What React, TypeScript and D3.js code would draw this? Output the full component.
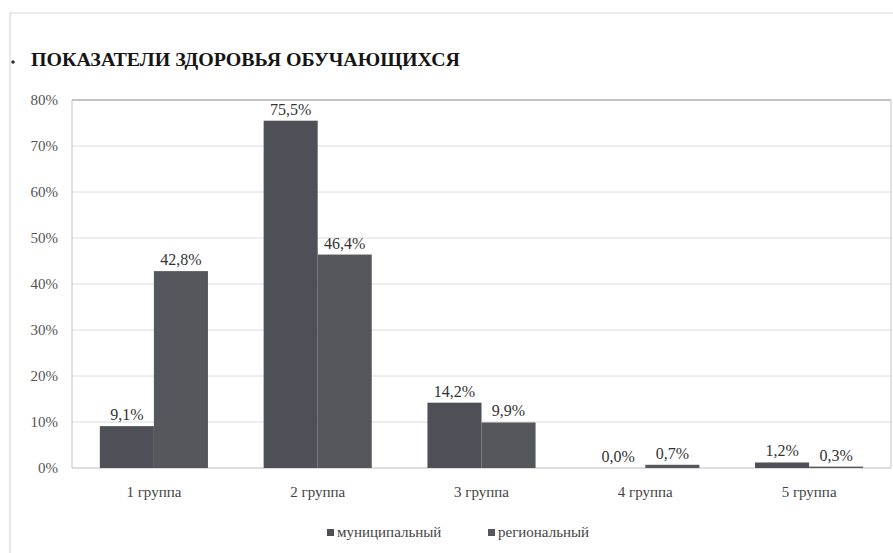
import React from "react";
import * as d3 from "d3";

const categories = ["1 группа", "2 группа", "3 группа", "4 группа", "5 группа"];
const seriesNames = ["муниципальный", "региональный"];
const municipal = [9.1, 75.5, 14.2, 0.0, 1.2];
const regional = [42.8, 46.4, 9.9, 0.7, 0.3];
const yTicks = [0, 10, 20, 30, 40, 50, 60, 70, 80];
const title = "ПОКАЗАТЕЛИ ЗДОРОВЬЯ ОБУЧАЮЩИХСЯ";

const W = 893;
const H = 553;
const plot = { left: 72, right: 891, top: 100, bottom: 468 };
const colors = ["#4f4f57", "#56565d"];
const ts = { fontFamily: "'Times New Roman', 'Liberation Serif', 'DejaVu Serif', serif", fontWeight: 400 as const };

export default function App() {
  const x0 = d3
    .scaleBand<string>()
    .domain(categories)
    .range([plot.left, plot.right])
    .paddingInner(0.34)
    .paddingOuter(0.17);
  const x1 = d3.scaleBand<string>().domain(seriesNames).range([0, x0.bandwidth()]);
  const y = d3.scaleLinear().domain([0, 80]).range([plot.bottom, plot.top]);
  const series = [municipal, regional];
  const fmt = (v: number) => d3.format(".1f")(v).replace(".", ",") + "%";

  return (
    <svg
      width={W}
      height={H}
      style={{ position: "absolute", left: 0, top: 0, background: "#fff" }}
    >
      <rect x={0} y={0} width={W} height={H} fill="#fff" />
      <line x1={10} x2={W} y1={13} y2={13} stroke="#d8d8d8" />
      <line x1={10} x2={10} y1={13} y2={H} stroke="#d0d0d0" />
      <circle cx={13} cy={62} r={1.8} fill="#333" />
      <text x={31} y={66} fontSize={19} fill="#151515" style={{ ...ts, fontWeight: 700 }} textLength={429} lengthAdjust="spacingAndGlyphs">
        {title}
      </text>
      {yTicks.map((t) => (
        <line
          key={t}
          x1={plot.left}
          x2={plot.right}
          y1={y(t)}
          y2={y(t)}
          stroke={t === 0 ? "#bdbdbd" : "#dcdcdc"}
        />
      ))}
      <line x1={plot.left} x2={plot.right} y1={plot.top} y2={plot.top} stroke="#9a9a9a" />
      <line x1={plot.left} x2={plot.left} y1={plot.top} y2={plot.bottom} stroke="#c4c4c4" />
      <line x1={plot.right} x2={plot.right} y1={plot.top} y2={plot.bottom} stroke="#c4c4c4" />
      {yTicks.map((t) => (
        <text key={t} x={58} y={y(t) + 5} textAnchor="end" fontSize={15} fill="#555" style={ts}>
          {t + "%"}
        </text>
      ))}
      {categories.map((c, i) => (
        <g key={c}>
          {series.map((s, j) => {
            const bx = (x0(c) ?? 0) + (x1(seriesNames[j]) ?? 0);
            const bw = x1.bandwidth();
            const v = s[i];
            return (
              <g key={j}>
                <rect x={bx} y={y(v)} width={bw} height={Math.max(0, y(0) - y(v))} fill={colors[j]} />
                <text x={bx + bw / 2} y={y(v) - 6} textAnchor="middle" fontSize={16} fill="#333" style={ts}>
                  {fmt(v)}
                </text>
              </g>
            );
          })}
          <text x={(x0(c) ?? 0) + x0.bandwidth() / 2} y={497} textAnchor="middle" fontSize={15} fill="#444" style={ts}>
            {c}
          </text>
        </g>
      ))}
      {seriesNames.map((n, j) => {
        const lx = [327, 488][j];
        return (
          <g key={n}>
            <rect x={lx} y={529} width={7} height={7} fill={colors[j]} />
            <text x={lx + 10} y={537} fontSize={15} fill="#444" style={ts}>
              {n}
            </text>
          </g>
        );
      })}
    </svg>
  );
}
